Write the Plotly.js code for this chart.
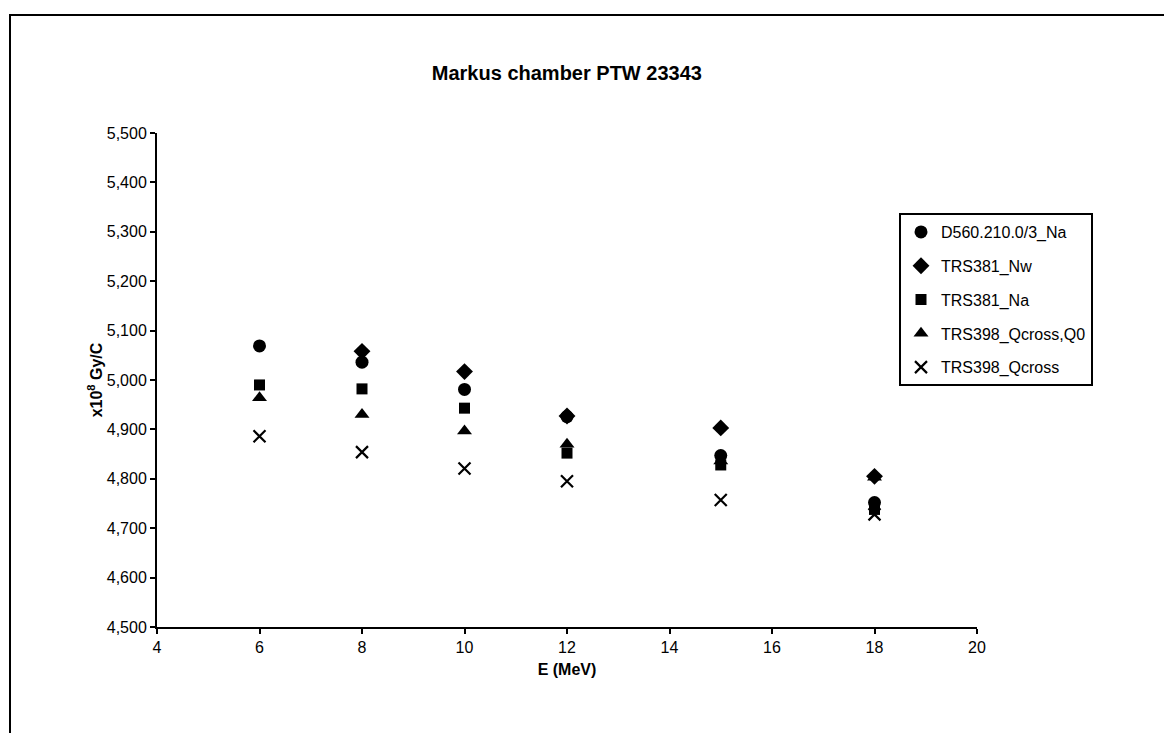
<!DOCTYPE html>
<html>
<head>
<meta charset="utf-8">
<script src="https://cdn.plot.ly/plotly-3.0.1.min.js"></script>
<style>
  html, body { margin: 0; padding: 0; background: #fff; overflow: hidden; }
  #frame { position: absolute; left: 9px; top: 14px; width: 1200px; height: 800px; border-left: 2px solid #000; border-top: 2px solid #000; }
  #chart { position: absolute; left: 0; top: 0; width: 1164px; height: 733px; }
</style>
</head>
<body>
<div id="frame"></div>
<div id="chart"></div>
<script>
// Beam energies (MeV)
const energies = [6, 8, 10, 12, 15, 18];

// Calibration factors (x10^8 Gy/C) per protocol
const seriesNames = ["D560.210.0/3_Na", "TRS381_Nw", "TRS381_Na", "TRS398_Qcross,Q0", "TRS398_Qcross"];
const d560_Na      = [5069, 5036, 4981, 4926, 4847, 4752];
const trs381_Nw    = [null, 5058, 5017, 4927, 4903, 4805];
const trs381_Na    = [4990, 4982, 4943, 4852, 4828, 4738];
const trs398_QcQ0  = [4964, 4930, 4897, 4870, 4836, 4803];
const trs398_Qc    = [4886, 4854, 4821, 4795, 4757, 4728];

const xTickVals = [4, 6, 8, 10, 12, 14, 16, 18, 20];
const yTickVals = [4500, 4600, 4700, 4800, 4900, 5000, 5100, 5200, 5300, 5400, 5500];

const seriesValues = [d560_Na, trs381_Nw, trs381_Na, trs398_QcQ0, trs398_Qc];
const symbols = ["circle", "diamond", "square", "triangle-up", "x-thin"];
const sizes = [13, 13, 11, 13, 12];

const traces = seriesValues.map((vals, i) => ({
  type: "scatter",
  mode: "markers",
  name: seriesNames[i],
  legendgroup: "g" + i,
  x: energies,
  y: vals,
  marker: {
    symbol: symbols[i],
    size: sizes[i],
    color: "#000",
    line: { color: "#000", width: symbols[i] === "x-thin" ? 2.2 : 0 }
  }
}));

const font = "Liberation Sans, Arial, sans-serif";

const layout = {
  width: 1164,
  height: 733,
  margin: { l: 157, r: 187, t: 133, b: 106 },
  paper_bgcolor: "rgba(0,0,0,0)",
  plot_bgcolor: "rgba(0,0,0,0)",
  font: { family: font, color: "#000", size: 16 },
  title: {
    text: "<b>Markus chamber PTW 23343</b>",
    font: { family: font, size: 20, color: "#000" },
    x: 0.487, xanchor: "center",
    y: 1 - 73 / 733, yanchor: "middle"
  },
  xaxis: {
    range: [4, 20],
    tickvals: xTickVals,
    ticktext: xTickVals.map(String),
    showgrid: false, zeroline: false,
    showline: true, linecolor: "#000", linewidth: 2,
    ticks: "outside", ticklen: 5, tickwidth: 2, tickcolor: "#000",
    tickfont: { family: font, size: 16 },
    title: { text: "<b>E (MeV)</b>", font: { family: font, size: 16 }, standoff: 9 }
  },
  yaxis: {
    range: [4500, 5500],
    tickvals: yTickVals,
    tickformat: ",d",
    showgrid: false, zeroline: false,
    showline: true, linecolor: "#000", linewidth: 2,
    ticks: "outside", ticklen: 5, tickwidth: 2, tickcolor: "#000",
    tickfont: { family: font, size: 16 },
    title: { text: "<b>x10<sup>8</sup> Gy/C</b>", font: { family: font, size: 16 }, standoff: 0 }
  },
  showlegend: true,
  legend: {
    x: (899 - 157) / 820, xanchor: "left",
    y: (627 - 213) / 494, yanchor: "top",
    bgcolor: "#fff",
    bordercolor: "#000", borderwidth: 2,
    font: { family: font, size: 16, color: "#000" },
    tracegroupgap: 10,
    itemwidth: 30
  }
};

Plotly.newPlot("chart", traces, layout, { displayModeBar: false, staticPlot: true });
</script>
</body>
</html>
